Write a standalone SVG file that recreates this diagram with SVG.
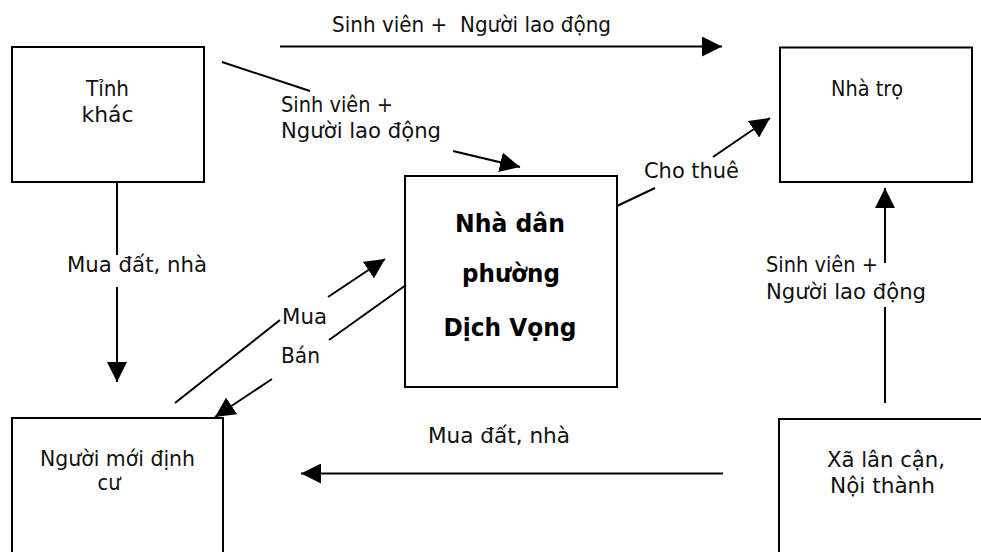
<svg xmlns="http://www.w3.org/2000/svg" width="981" height="552" viewBox="0 0 981 552">
<style>
.box{fill:#fff;stroke:#000;stroke-width:2}
.ln{fill:none;stroke:#000;stroke-width:2}
.t{font-family:"DejaVu Sans","Liberation Sans",sans-serif;font-size:21px;fill:#111}
.c{text-anchor:middle}
.b{font-family:"DejaVu Sans","Liberation Sans",sans-serif;font-size:25px;font-weight:bold;fill:#000;text-anchor:middle}
</style>
<defs>
<marker id="ah" markerUnits="userSpaceOnUse" markerWidth="20" markerHeight="20" refX="20" refY="10" orient="auto" viewBox="0 0 20 20">
<path d="M0,0 L20,10 L0,20 z" fill="#000"/>
</marker>
</defs>
<rect width="981" height="552" fill="#fff"/>
<g id="node-tinh-khac">
<rect class="box" x="12" y="47" width="192" height="135"/>
<text class="t c" x="107.5" y="96" textLength="43" lengthAdjust="spacingAndGlyphs">Tỉnh</text>
<text class="t c" x="107.5" y="122" textLength="52" lengthAdjust="spacingAndGlyphs">khác</text>
</g>
<g id="node-nha-tro">
<rect class="box" x="780" y="47.5" width="192" height="134.5"/>
<text class="t c" x="867" y="96" textLength="72" lengthAdjust="spacingAndGlyphs">Nhà trọ</text>
</g>
<g id="node-nha-dan">
<rect class="box" x="405" y="176" width="212" height="211"/>
<text class="b" x="510" y="232" textLength="110" lengthAdjust="spacingAndGlyphs">Nhà dân</text>
<text class="b" x="511" y="282" textLength="98" lengthAdjust="spacingAndGlyphs">phường</text>
<text class="b" x="510" y="336" textLength="133" lengthAdjust="spacingAndGlyphs">Dịch Vọng</text>
</g>
<g id="node-nguoi-moi">
<rect class="box" x="12" y="418" width="211" height="150"/>
<text class="t c" x="117.5" y="466" textLength="155" lengthAdjust="spacingAndGlyphs">Người mới định</text>
<text class="t c" x="109" y="490" textLength="23" lengthAdjust="spacingAndGlyphs">cư</text>
</g>
<g id="node-xa-lan-can">
<rect class="box" x="779" y="419" width="220" height="150"/>
<text class="t c" x="886" y="467" textLength="118" lengthAdjust="spacingAndGlyphs">Xã lân cận,</text>
<text class="t c" x="882.5" y="493" textLength="105" lengthAdjust="spacingAndGlyphs">Nội thành</text>
</g>
<g id="connectors">
<path class="ln" d="M280,46.5 L722,46.5" marker-end="url(#ah)"/>
<path class="ln" d="M222,62 L310,91"/>
<path class="ln" d="M453,151 L520,167" marker-end="url(#ah)"/>
<path class="ln" d="M617,206 L655,188"/>
<path class="ln" d="M713,157 L770,118" marker-end="url(#ah)"/>
<path class="ln" d="M117,182 L117,255"/>
<path class="ln" d="M117,287 L117,382" marker-end="url(#ah)"/>
<path class="ln" d="M175,403 L280,320"/>
<path class="ln" d="M328,297 L385,259" marker-end="url(#ah)"/>
<path class="ln" d="M406,285 L329,340"/>
<path class="ln" d="M272,379 L215,417" marker-end="url(#ah)"/>
<path class="ln" d="M723,473.5 L301,473.5" marker-end="url(#ah)"/>
<path class="ln" d="M885,403 L885,307"/>
<path class="ln" d="M885,263 L885,188" marker-end="url(#ah)"/>
<text class="t" x="332" y="32" textLength="279" lengthAdjust="spacingAndGlyphs">Sinh viên +&#160; Người lao động</text>
<text class="t" x="281" y="112" textLength="112" lengthAdjust="spacingAndGlyphs">Sinh viên +</text>
<text class="t" x="281" y="138" textLength="160" lengthAdjust="spacingAndGlyphs">Người lao động</text>
<text class="t" x="644" y="178" textLength="95" lengthAdjust="spacingAndGlyphs">Cho thuê</text>
<text class="t" x="67" y="272" textLength="140" lengthAdjust="spacingAndGlyphs">Mua đất, nhà</text>
<text class="t" x="282" y="324" textLength="45" lengthAdjust="spacingAndGlyphs">Mua</text>
<text class="t" x="281" y="363" textLength="39" lengthAdjust="spacingAndGlyphs">Bán</text>
<text class="t" x="766" y="272" textLength="112" lengthAdjust="spacingAndGlyphs">Sinh viên +</text>
<text class="t" x="766" y="299" textLength="160" lengthAdjust="spacingAndGlyphs">Người lao động</text>
<text class="t" x="428" y="443" textLength="142" lengthAdjust="spacingAndGlyphs">Mua đất, nhà</text>
</g>
</svg>
